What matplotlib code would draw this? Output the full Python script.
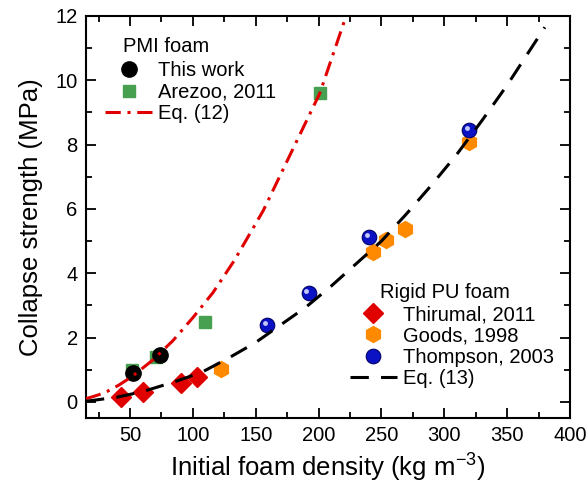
import numpy as np
import matplotlib
matplotlib.use("Agg")
import matplotlib.pyplot as plt
from matplotlib.ticker import MultipleLocator
from matplotlib.transforms import offset_copy

plt.rcParams['font.family'] = ['Liberation Sans', 'DejaVu Sans']
plt.rcParams['mathtext.fontset'] = 'custom'
plt.rcParams['mathtext.rm'] = 'Liberation Sans'
plt.rcParams['mathtext.it'] = 'Liberation Sans:italic'

# PMI foam
this_work_x = [52, 74]
this_work_y = [0.91, 1.47]
arezoo_x = [51.5, 70.7, 110, 201]
arezoo_y = [0.99, 1.41, 2.49, 9.6]
eq12_x = [15, 25, 32, 41, 52, 68, 84, 100, 116, 133, 156, 180, 201, 221]
eq12_y = [0.1, 0.22, 0.33, 0.52, 0.8, 1.3, 1.9, 2.62, 3.4, 4.4, 5.95, 7.9, 9.6, 11.9]

# Rigid PU foam
thirumal_x = [42.5, 60, 90.5, 103.5]
thirumal_y = [0.16, 0.31, 0.58, 0.78]
goods_x = [122.5, 243.5, 254, 269, 319.5]
goods_y = [1.01, 4.67, 5.04, 5.39, 8.07]
thompson_x = [159, 192, 240, 320]
thompson_y = [2.4, 3.38, 5.12, 8.44]
eq13_x = [15, 40, 60, 85, 107, 130, 150, 170, 190, 210, 230, 250, 270, 290, 310, 330, 350, 370, 380]
eq13_y = [0.02, 0.15, 0.32, 0.62, 0.92, 1.4, 1.85, 2.4, 2.95, 3.6, 4.3, 5.0, 5.85, 6.75, 7.7, 8.75, 9.85, 11.05, 11.65]

fig = plt.figure(figsize=(5.86, 4.92), dpi=100)
ax = fig.add_axes([0.1468, 0.1504, 0.8259, 0.8171])

# markers
h_ar, = ax.plot(arezoo_x, arezoo_y, 's', color='#47a04f', ms=8.5, zorder=3)
h_tw, = ax.plot(this_work_x, this_work_y, 'o', color='black', ms=11, zorder=4)
h_th, = ax.plot(thirumal_x, thirumal_y, 'D', color='#e00000', ms=10.5, zorder=3)
h_go, = ax.plot(goods_x, goods_y, 'h', color='#ff8a00', ms=11.5, zorder=3)
h_tp, = ax.plot(thompson_x, thompson_y, 'o', color='#0b12c4', mec='#00006a', mew=0.8,
                ms=10.5, zorder=4)
# small highlight on the blue spheres
shine = offset_copy(ax.transData, fig=fig, x=-2.2, y=2.2, units='dots')
ax.plot(thompson_x, thompson_y, 'o', color='#d8dcff', mew=0, ms=3.5, alpha=0.9,
        transform=shine, zorder=5)

# curves
h_e12, = ax.plot(eq12_x, eq12_y, color='#e00000', lw=2.2, dashes=(5, 2.2, 1, 2.2), zorder=6)
h_e13, = ax.plot(eq13_x, eq13_y, color='black', lw=2.2, dashes=(6, 4), zorder=6)

ax.set_xlim(15, 400)
ax.set_ylim(-0.5, 12)
ax.xaxis.set_major_locator(MultipleLocator(50))
ax.xaxis.set_minor_locator(MultipleLocator(25))
ax.yaxis.set_major_locator(MultipleLocator(2))
ax.yaxis.set_minor_locator(MultipleLocator(1))
ax.tick_params(which='both', direction='in', top=True, right=True, width=1.3,
               labelsize=14.5, pad=6)
ax.tick_params(which='major', length=7)
ax.tick_params(which='minor', length=4.5)
for s in ax.spines.values():
    s.set_linewidth(1.5)

ax.set_xlabel(r'Initial foam density (kg m$^{-3}$)', fontsize=18.5, labelpad=5)
ax.set_ylabel('Collapse strength (MPa)', fontsize=18.5, labelpad=9)

leg_kw = dict(frameon=False, fontsize=14.5, borderpad=0, borderaxespad=0,
              handlelength=2.35, handletextpad=0.3, labelspacing=0.12, loc='upper left')
leg1 = ax.legend([h_tw, h_ar, h_e12], ['This work', 'Arezoo, 2011', 'Eq. (12)'],
                 bbox_to_anchor=(0.039, 0.887), **leg_kw)
ax.add_artist(leg1)
ax.legend([h_th, h_go, h_tp, h_e13], ['Thirumal, 2011', 'Goods, 1998', 'Thompson, 2003', 'Eq. (13)'],
          bbox_to_anchor=(0.545, 0.281), **leg_kw)

ax.text(0.076, 0.923, 'PMI foam', transform=ax.transAxes, fontsize=14.5, va='center', ha='left')
ax.text(0.607, 0.313, 'Rigid PU foam', transform=ax.transAxes, fontsize=14.5, va='center', ha='left')

fig.savefig('out.png', dpi=100)
